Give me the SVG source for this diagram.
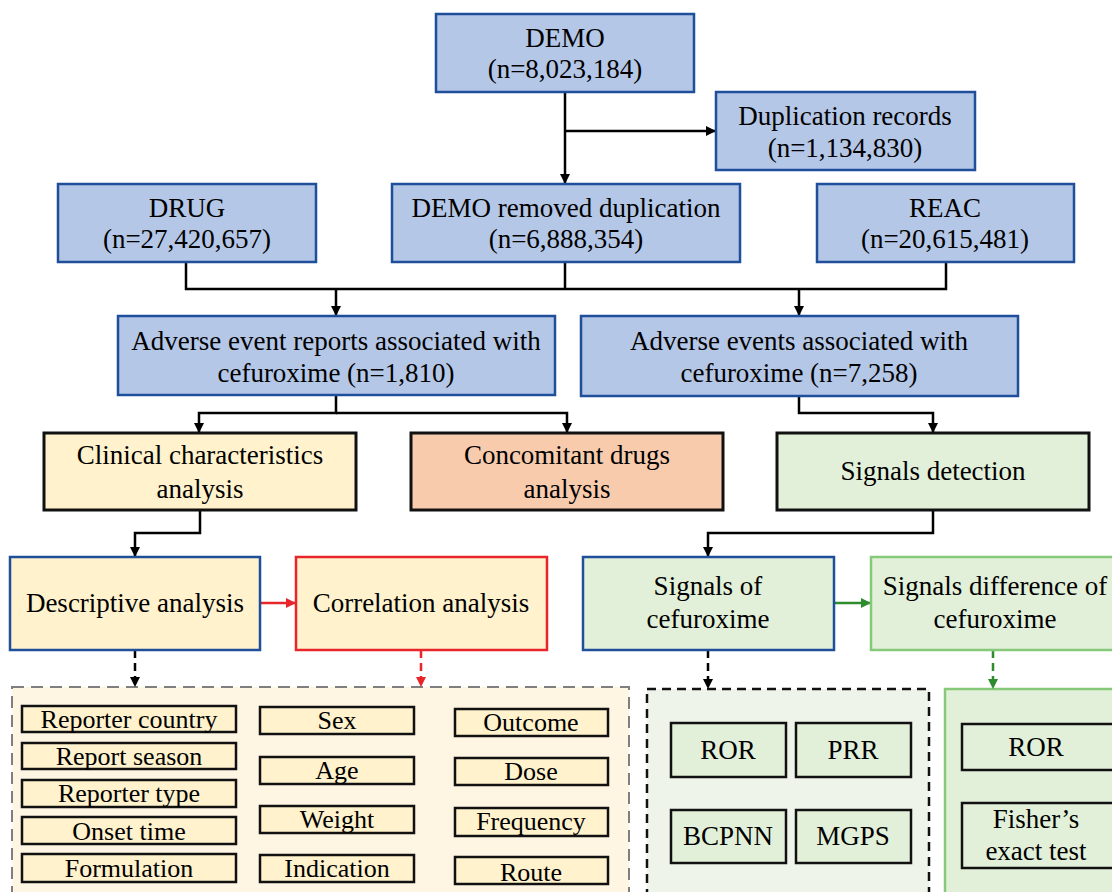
<svg xmlns="http://www.w3.org/2000/svg" width="1112" height="892" viewBox="0 0 1112 892" font-family="'Liberation Serif', 'DejaVu Serif', serif">
<defs>
<marker id="ab" markerUnits="userSpaceOnUse" markerWidth="10" markerHeight="10" refX="10" refY="5" orient="auto"><path d="M0,0 L10,5 L0,10 z" fill="#000"/></marker>
<marker id="ar" markerUnits="userSpaceOnUse" markerWidth="10" markerHeight="10" refX="10" refY="5" orient="auto"><path d="M0,0 L10,5 L0,10 z" fill="#E8252B"/></marker>
<marker id="ag" markerUnits="userSpaceOnUse" markerWidth="10" markerHeight="10" refX="10" refY="5" orient="auto"><path d="M0,0 L10,5 L0,10 z" fill="#2E8B2E"/></marker>
</defs>
<style>
text{font-family:'Liberation Serif','DejaVu Serif',serif;fill:#000;text-anchor:middle}
.t{font-size:27px}
.s{font-size:26px}
.blue{fill:#B4C7E7;stroke:#1F4E9A;stroke-width:2.5}
.yel{fill:#FFF2CC;stroke:#111;stroke-width:3}
.ora{fill:#F8CBAD;stroke:#111;stroke-width:3}
.grn{fill:#E2F0D9;stroke:#111;stroke-width:3}
.yelb{fill:#FFF2CC;stroke:#1F4E9A;stroke-width:2.5}
.yelr{fill:#FFF2CC;stroke:#E8252B;stroke-width:2.5}
.grnb{fill:#E2F0D9;stroke:#1F4E9A;stroke-width:2.5}
.grnl{fill:#E2F0D9;stroke:#86C97A;stroke-width:2.5}
.sy{fill:#FFF2CC;stroke:#111;stroke-width:2.5}
.sg{fill:#E2F0D9;stroke:#111;stroke-width:2.5}
.c{fill:none;stroke:#000;stroke-width:2.5}
</style>
<rect width="1112" height="892" fill="#fff"/>

<g id="panels">
<rect x="12" y="687" width="617" height="220" fill="#FFF5E3" stroke="#7F7F7F" stroke-width="2" stroke-dasharray="12,7"/>
<rect x="647" y="689" width="282" height="220" fill="#EEF4EA" stroke="#111" stroke-width="2.5" stroke-dasharray="9,6"/>
<rect x="945" y="689" width="190" height="220" fill="#E2F0D9" stroke="#86C97A" stroke-width="2.5"/>
</g>

<g id="connectors">
<path class="c" d="M565,92 V184" marker-end="url(#ab)"/>
<path class="c" d="M565,131 H716" marker-end="url(#ab)"/>
<path class="c" d="M186,262 V289 H946 V262 M565,262 V289"/>
<path class="c" d="M336,289 V316" marker-end="url(#ab)"/>
<path class="c" d="M799,289 V316" marker-end="url(#ab)"/>
<path class="c" d="M336,395 V413 H199 V433" marker-end="url(#ab)"/>
<path class="c" d="M336,413 H567 V433" marker-end="url(#ab)"/>
<path class="c" d="M799,396 V413 H933 V433" marker-end="url(#ab)"/>
<path class="c" d="M200,510 V533 H135 V557" marker-end="url(#ab)"/>
<path class="c" d="M933,510 V533 H708 V557" marker-end="url(#ab)"/>
<path d="M260,603 H296" fill="none" stroke="#E8252B" stroke-width="2.5" marker-end="url(#ar)"/>
<path d="M834,603 H871" fill="none" stroke="#2E8B2E" stroke-width="2.5" marker-end="url(#ag)"/>
<path d="M135,650 V687" fill="none" stroke="#000" stroke-width="2.5" stroke-dasharray="8,5" marker-end="url(#ab)"/>
<path d="M421,650 V687" fill="none" stroke="#E8252B" stroke-width="2.5" stroke-dasharray="8,5" marker-end="url(#ar)"/>
<path d="M708,650 V689" fill="none" stroke="#000" stroke-width="2.5" stroke-dasharray="8,5" marker-end="url(#ab)"/>
<path d="M993,650 V689" fill="none" stroke="#2E8B2E" stroke-width="2.5" stroke-dasharray="8,5" marker-end="url(#ag)"/>
</g>

<g id="demo"><rect class="blue" x="436" y="14" width="258" height="78"/><text class="t" x="565" y="47">DEMO</text><text class="t" x="565" y="78">(n=8,023,184)</text></g>
<g id="dup"><rect class="blue" x="716" y="92" width="259" height="78"/><text class="t" x="845" y="125">Duplication records</text><text class="t" x="845" y="157">(n=1,134,830)</text></g>
<g id="drug"><rect class="blue" x="58" y="184" width="258" height="78"/><text class="t" x="187" y="217">DRUG</text><text class="t" x="187" y="248">(n=27,420,657)</text></g>
<g id="demorem"><rect class="blue" x="392" y="184" width="348" height="78"/><text class="t" x="566" y="217">DEMO removed duplication</text><text class="t" x="566" y="248">(n=6,888,354)</text></g>
<g id="reac"><rect class="blue" x="817" y="184" width="257" height="78"/><text class="t" x="945" y="217">REAC</text><text class="t" x="945" y="248">(n=20,615,481)</text></g>
<g id="aer"><rect class="blue" x="118" y="316" width="437" height="79"/><text class="t" x="336" y="350">Adverse event reports associated with</text><text class="t" x="336" y="382">cefuroxime (n=1,810)</text></g>
<g id="ae"><rect class="blue" x="581" y="316" width="437" height="80"/><text class="t" x="799" y="350">Adverse events associated with</text><text class="t" x="799" y="382">cefuroxime (n=7,258)</text></g>
<g id="clin"><rect class="yel" x="44" y="433" width="312" height="77"/><text class="t" x="200" y="464">Clinical  characteristics</text><text class="t" x="200" y="498">analysis</text></g>
<g id="conc"><rect class="ora" x="411" y="433" width="312" height="77"/><text class="t" x="567" y="464">Concomitant drugs</text><text class="t" x="567" y="498">analysis</text></g>
<g id="sigdet"><rect class="grn" x="777" y="433" width="312" height="77"/><text class="t" x="933" y="480">Signals  detection</text></g>
<g id="desc"><rect class="yelb" x="10" y="557" width="250" height="93"/><text class="t" x="135" y="612">Descriptive analysis</text></g>
<g id="corr"><rect class="yelr" x="296" y="557" width="251" height="93"/><text class="t" x="421" y="612">Correlation analysis</text></g>
<g id="sigof"><rect class="grnb" x="583" y="557" width="251" height="93"/><text class="t" x="708" y="595">Signals  of</text><text class="t" x="708" y="628">cefuroxime</text></g>
<g id="sigdiff"><rect class="grnl" x="871" y="557" width="260" height="93"/><text class="t" x="995" y="595">Signals  difference of</text><text class="t" x="995" y="628">cefuroxime</text></g>

<g id="items-left">
<g id="i1"><rect class="sy" x="22" y="706" width="214" height="26"/><text class="s" x="129" y="728">Reporter country</text></g>
<g id="i2"><rect class="sy" x="22" y="743" width="214" height="26"/><text class="s" x="129" y="765">Report season</text></g>
<g id="i3"><rect class="sy" x="22" y="780" width="214" height="27"/><text class="s" x="129" y="802">Reporter type</text></g>
<g id="i4"><rect class="sy" x="22" y="817" width="214" height="27"/><text class="s" x="129" y="840">Onset time</text></g>
<g id="i5"><rect class="sy" x="22" y="854" width="214" height="28"/><text class="s" x="129" y="877">Formulation</text></g>
<g id="i6"><rect class="sy" x="260" y="707" width="154" height="27"/><text class="s" x="337" y="729">Sex</text></g>
<g id="i7"><rect class="sy" x="260" y="757" width="154" height="27"/><text class="s" x="337" y="779">Age</text></g>
<g id="i8"><rect class="sy" x="260" y="806" width="154" height="27"/><text class="s" x="337" y="828">Weight</text></g>
<g id="i9"><rect class="sy" x="260" y="855" width="154" height="27"/><text class="s" x="337" y="877">Indication</text></g>
<g id="i10"><rect class="sy" x="455" y="709" width="153" height="27"/><text class="s" x="531" y="731">Outcome</text></g>
<g id="i11"><rect class="sy" x="455" y="758" width="153" height="27"/><text class="s" x="531" y="780">Dose</text></g>
<g id="i12"><rect class="sy" x="455" y="808" width="153" height="28"/><text class="s" x="531" y="830">Frequency</text></g>
<g id="i13"><rect class="sy" x="455" y="857" width="153" height="27"/><text class="s" x="531" y="881">Route</text></g>
</g>

<g id="items-right">
<g id="ror1"><rect class="sg" x="671" y="723" width="115" height="54"/><text class="t" x="728" y="759">ROR</text></g>
<g id="prr"><rect class="sg" x="796" y="723" width="115" height="54"/><text class="t" x="853" y="759">PRR</text></g>
<g id="bcpnn"><rect class="sg" x="671" y="810" width="115" height="53"/><text class="t" x="728" y="845">BCPNN</text></g>
<g id="mgps"><rect class="sg" x="796" y="810" width="115" height="53"/><text class="t" x="853" y="845">MGPS</text></g>
<g id="ror2"><rect class="sg" x="962" y="724" width="160" height="46"/><text class="t" x="1036" y="756">ROR</text></g>
<g id="fisher"><rect class="sg" x="962" y="803" width="160" height="65"/><text class="t" x="1036" y="828">Fisher’s</text><text class="t" x="1036" y="860">exact test</text></g>
</g>
</svg>
